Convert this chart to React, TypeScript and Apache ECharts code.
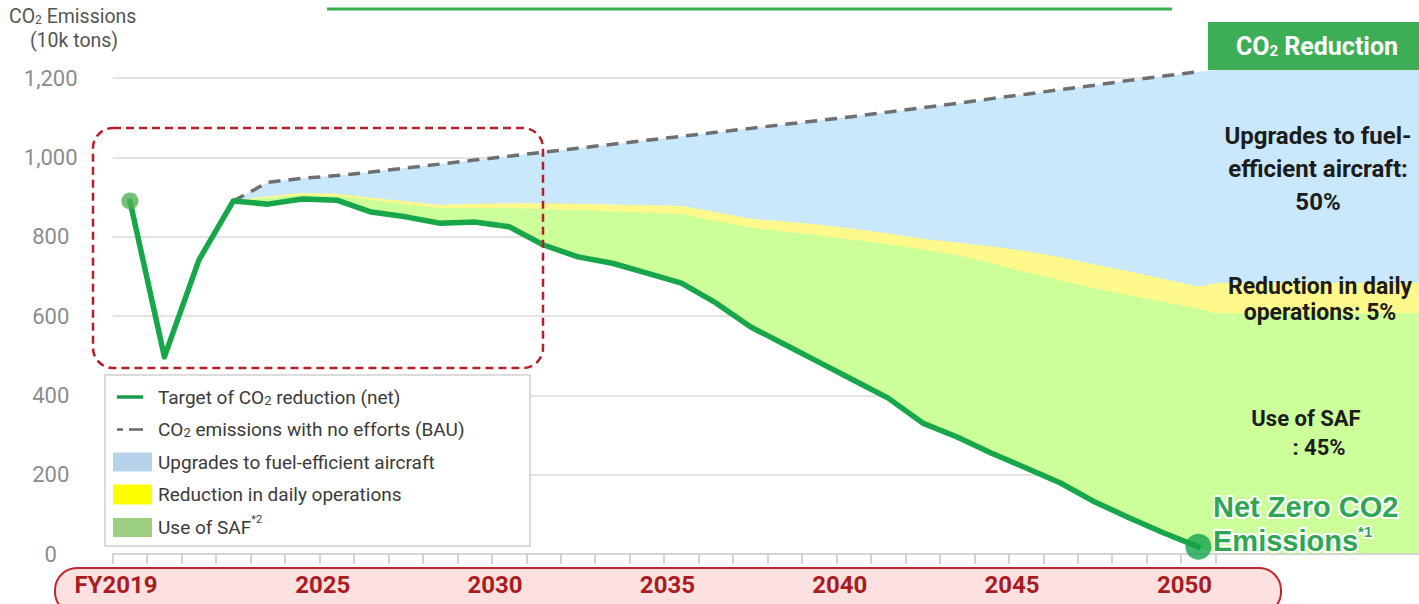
import React, { useEffect, useRef } from "react";
import * as echarts from "echarts";

// ---------- data (10k tons CO2) ----------
const years = [
  2019, 2020, 2021, 2022, 2023, 2024, 2025, 2026, 2027, 2028,
  2029, 2030, 2031, 2032, 2033, 2034, 2035, 2036, 2037, 2038,
  2039, 2040, 2041, 2042, 2043, 2044, 2045, 2046, 2047, 2048,
  2049, 2050,
];
const labelYears = [2019, 2025, 2030, 2035, 2040, 2045, 2050];

const netTarget = [
  890, 497, 741, 890, 882, 895, 892, 862, 850, 834,
  837, 825, 779, 749, 733, 708, 683, 633, 573, 528,
  483, 438, 393, 330, 295, 254, 217, 179, 131, 91,
  53, 18,
];
const bauEmissions = [
  null, null, null, 890, 937, 947, 954, 963, 973, 983,
  993, 1003, 1013, 1023, 1033, 1043, 1053, 1063, 1073, 1083,
  1093, 1103, 1114, 1125, 1136, 1148, 1159, 1171, 1182, 1194,
  1205, 1216,
];
// top edge of the "daily operations" band (= bottom of the aircraft band)
const dailyTop = [
  null, null, null, 890, 902, 910, 908, 898, 889, 880,
  883, 884, 884, 883, 881, 879, 878, 862, 845, 838,
  830, 820, 808, 795, 785, 775, 764, 748, 730, 712,
  693, 674,
];
// top edge of the "SAF" band
const safTop = [
  null, null, null, 890, 898, 905, 903, 893, 882, 872,
  872, 872, 870, 867, 864, 861, 857, 840, 823, 813,
  803, 792, 780, 768, 753, 733, 710, 690, 670, 652,
  635, 619,
];
// right-hand reduction panel (flat block after 2050)
const panelYears = [2050.5, 2057];
const panelBau = 1220;
const panelDailyTop = 683;
const panelSafTop = 607;
const panelBase = 0;

const yTicks = [0, 200, 400, 600, 800, 1000, 1200];
const xMin = 2018.5;
const xMax = 2056.4;

// ---------- colours ----------
const C_BLUE = "#c9e8fc";
const C_YELLOW = "#fff98c";
const C_GREEN = "#ccff99";
const C_NET = "#17a649";
const C_BAU = "#6f6f6f";

const FONT = "Roboto";

function buildOption() {
  const idx = years.map((_, i) => i).filter((i) => safTop[i] != null);
  const edge = (arr: (number | null)[], panelVal: number) =>
    idx.map((i) => [years[i], arr[i] as number]).concat(panelYears.map((x) => [x, panelVal]));
  const bauEdge = edge(bauEmissions, panelBau);
  const dailyEdge = edge(dailyTop, panelDailyTop);
  const safEdge = edge(safTop, panelSafTop);
  const netEdge = edge(netTarget, panelBase);

  const netData = years.map((y, i) => [y, netTarget[i]]);
  const bauData = idx.map((i) => [years[i], bauEmissions[i]]);
  const last = years.length - 1;
  const tickBounds = years.map((y) => y - 0.5).concat([years[last] + 0.5]);

  // a filled band between an upper and a lower edge, placed through the axes
  const band = (name: string, upper: number[][], lower: number[][], color: string) => ({
    name,
    type: "custom",
    coordinateSystem: "cartesian2d",
    silent: true,
    clip: false,
    z: 2,
    data: [upper[0]],
    renderItem: (_p: any, api: any) => {
      const pts = upper.map((p) => api.coord(p)).concat(lower.slice().reverse().map((p) => api.coord(p)));
      return { type: "polygon", shape: { points: pts }, style: { fill: color } };
    },
  });

  const legendText = (y: number, text: string) => ({
    type: "text",
    z: 11,
    style: {
      text,
      x: 158,
      y,
      fill: "#3a3a3a",
      fontSize: 19,
      fontFamily: FONT,
      textAlign: "left",
      align: "left",
      textVerticalAlign: "middle",
      verticalAlign: "middle",
      rich: {
        s: { fontSize: 13, fontFamily: FONT, fill: "#3a3a3a", lineHeight: 10, verticalAlign: "bottom" },
        sup: { fontSize: 11, fontFamily: FONT, fill: "#3a3a3a", lineHeight: 26, verticalAlign: "top" },
      },
    },
  });
  const legendY = [397, 429.5, 462, 494.5, 527];

  const centerText = (text: string, x: number, y: number, size: number, lh?: number) => ({
    type: "text",
    z: 11,
    style: {
      text,
      x,
      y,
      fill: "#1c1c1c",
      fontSize: size,
      fontWeight: "bold",
      fontFamily: FONT,
      lineHeight: lh,
      textAlign: "center",
      align: "center",
      textVerticalAlign: "middle",
      verticalAlign: "middle",
    },
  });

  const graphic: any[] = [
    // top green rule (title underline, title itself cut off)
    { type: "line", z: 1, shape: { x1: 327, y1: 9, x2: 1172, y2: 9 }, style: { stroke: "#3aad4e", lineWidth: 3 } },
    // y-axis title
    {
      type: "text",
      z: 5,
      style: {
        text: "CO{s|2} Emissions",
        x: 9,
        y: 16,
        fill: "#555",
        fontSize: 19.5,
        fontFamily: FONT,
        textAlign: "left",
        align: "left",
        textVerticalAlign: "middle",
        verticalAlign: "middle",
        rich: { s: { fontSize: 12, fontFamily: FONT, fill: "#555", lineHeight: 10, verticalAlign: "bottom" } },
      },
    },
    {
      type: "text",
      z: 5,
      style: {
        text: "(10k tons)",
        x: 74,
        y: 40,
        fill: "#555",
        fontSize: 19.5,
        fontFamily: FONT,
        textAlign: "center",
        align: "center",
        textVerticalAlign: "middle",
        verticalAlign: "middle",
      },
    },
    // pink x-axis band
    {
      type: "rect",
      z: 1,
      shape: { x: 55, y: 568, width: 1226, height: 46, r: 22 },
      style: { fill: "#fde1e1", stroke: "#c0262d", lineWidth: 2 },
    },
    // red dashed highlight box
    {
      type: "rect",
      z: 20,
      shape: { x: 93, y: 128, width: 450, height: 240, r: 20 },
      style: { fill: "none", stroke: "#b3202c", lineWidth: 2.5, lineDash: [8, 5] },
    },
    // legend
    {
      type: "rect",
      z: 10,
      shape: { x: 105, y: 375, width: 425, height: 171 },
      style: { fill: "#ffffff", stroke: "#cfcfcf", lineWidth: 1.5 },
    },
    { type: "line", z: 11, shape: { x1: 117, y1: legendY[0], x2: 143, y2: legendY[0] }, style: { stroke: "#1a9c4a", lineWidth: 3.5 } },
    { type: "line", z: 11, shape: { x1: 117, y1: legendY[1], x2: 123, y2: legendY[1] }, style: { stroke: "#666", lineWidth: 2.5 } },
    { type: "line", z: 11, shape: { x1: 129, y1: legendY[1], x2: 143, y2: legendY[1] }, style: { stroke: "#666", lineWidth: 2.5 } },
    { type: "rect", z: 11, shape: { x: 113, y: legendY[2] - 9.5, width: 39, height: 19 }, style: { fill: "#b7d3ec" } },
    { type: "rect", z: 11, shape: { x: 113, y: legendY[3] - 10, width: 39, height: 20 }, style: { fill: "#ffff00" } },
    { type: "rect", z: 11, shape: { x: 113, y: legendY[4] - 9, width: 39, height: 19 }, style: { fill: "#9ccf80" } },
    legendText(legendY[0], "Target of CO{s|2} reduction (net)"),
    legendText(legendY[1], "CO{s|2} emissions with no efforts (BAU)"),
    legendText(legendY[2], "Upgrades to fuel-efficient aircraft"),
    legendText(legendY[3], "Reduction in daily operations"),
    legendText(legendY[4], "Use of SAF{sup|*2}"),
    // CO2 Reduction header
    { type: "rect", z: 10, shape: { x: 1208, y: 22, width: 215, height: 48 }, style: { fill: "#3dae55" } },
    {
      type: "text",
      z: 11,
      style: {
        text: "CO{s|2} Reduction",
        x: 1317,
        y: 46,
        fill: "#ffffff",
        fontSize: 25,
        fontWeight: "bold",
        fontFamily: FONT,
        textAlign: "center",
        align: "center",
        textVerticalAlign: "middle",
        verticalAlign: "middle",
        rich: { s: { fontSize: 15, fontWeight: "bold", fontFamily: FONT, fill: "#fff", lineHeight: 12, verticalAlign: "bottom" } },
      },
    },
    // panel labels
    centerText("Upgrades to fuel-\nefficient aircraft:\n50%", 1318, 169, 24, 33),
    centerText("Reduction in daily\noperations: 5%", 1320, 299, 23, 26),
    centerText("Use of SAF", 1306, 418, 22),
    centerText(": 45%", 1319, 447, 22),
    {
      type: "text",
      z: 11,
      style: {
        text: "Net Zero CO2",
        x: 1213,
        y: 507,
        fill: "#2ea653",
        stroke: "#ffffff",
        lineWidth: 4,
        fontSize: 29,
        fontWeight: "bold",
        fontFamily: "Liberation Sans",
        textAlign: "left",
        align: "left",
        textVerticalAlign: "middle",
        verticalAlign: "middle",
      },
    },
    {
      type: "text",
      z: 11,
      style: {
        text: "Emissions{sup|*1}",
        x: 1213,
        y: 541,
        fill: "#2ea653",
        stroke: "#ffffff",
        lineWidth: 4,
        fontSize: 29,
        fontWeight: "bold",
        fontFamily: "Liberation Sans",
        textAlign: "left",
        align: "left",
        textVerticalAlign: "middle",
        verticalAlign: "middle",
        rich: {
          sup: {
            fontSize: 15,
            fontWeight: "bold",
            fontFamily: "Liberation Sans",
            fill: "#2ea653",
            stroke: "#fff",
            lineWidth: 3,
            lineHeight: 34,
            verticalAlign: "top",
          },
        },
      },
    },
  ];

  return {
    animation: false,
    backgroundColor: "#ffffff",
    grid: { left: 112.7, right: 0, top: 78, bottom: 50, containLabel: false },
    xAxis: {
      type: "value",
      min: xMin,
      max: xMax,
      z: 3,
      axisLine: { show: true, onZero: false, lineStyle: { color: "#d0d0d0", width: 1.5 } },
      axisTick: {
        show: true,
        customValues: tickBounds,
        length: 10,
        lineStyle: { color: "#c4c4c4", width: 1.5 },
      },
      axisLabel: {
        customValues: labelYears,
        formatter: (v: number) => (v === years[0] ? "FY" + v : String(v)),
        color: "#a81c22",
        fontSize: 24,
        fontWeight: "bold",
        fontFamily: FONT,
        margin: 19,
        padding: [0, 28, 0, 0],
      },
      splitLine: { show: false },
    },
    yAxis: {
      type: "value",
      min: yTicks[0],
      max: yTicks[yTicks.length - 1],
      interval: yTicks[1] - yTicks[0],
      z: 0,
      axisLine: { show: false },
      axisTick: { show: false },
      axisLabel: {
        formatter: (v: number) => v.toLocaleString("en-US"),
        color: "#8c8c8c",
        fontSize: 22,
        fontFamily: FONT,
        align: "center",
        margin: 62,
      },
      splitLine: { lineStyle: { color: "#dadada", width: 1.5 } },
    },
    series: [
      band("Upgrades to fuel-efficient aircraft", bauEdge, netEdge, C_BLUE),
      band("Reduction in daily operations", dailyEdge, netEdge, C_YELLOW),
      band("Use of SAF", safEdge, netEdge, C_GREEN),
      {
        name: "BAU",
        type: "line",
        data: bauData,
        symbol: "none",
        clip: false,
        z: 4,
        lineStyle: { color: C_BAU, width: 3.5, type: [12, 8] },
      },
      {
        name: "Target",
        type: "line",
        data: netData,
        symbol: "none",
        clip: false,
        z: 5,
        lineStyle: { color: C_NET, width: 5.5, join: "round", cap: "round" },
      },
      {
        name: "dots",
        type: "scatter",
        z: 6,
        clip: false,
        data: [
          { value: [years[0], netTarget[0]], symbolSize: 17, itemStyle: { color: "#4fb255" } },
          { value: [years[last], netTarget[last]], symbolSize: 26, itemStyle: { color: "#13a24a" } },
        ],
      },
    ],
    graphic,
  };
}

export default function App() {
  const ref = useRef<HTMLDivElement>(null);
  useEffect(() => {
    document.body.style.margin = "0";
    const chart = echarts.init(ref.current as HTMLDivElement, null, { renderer: "svg" });
    chart.setOption(buildOption() as any);
    return () => chart.dispose();
  }, []);
  return (
    <div
      ref={ref}
      style={{ width: 1419, height: 604, position: "absolute", left: 0, top: 0, overflow: "hidden" }}
    />
  );
}
